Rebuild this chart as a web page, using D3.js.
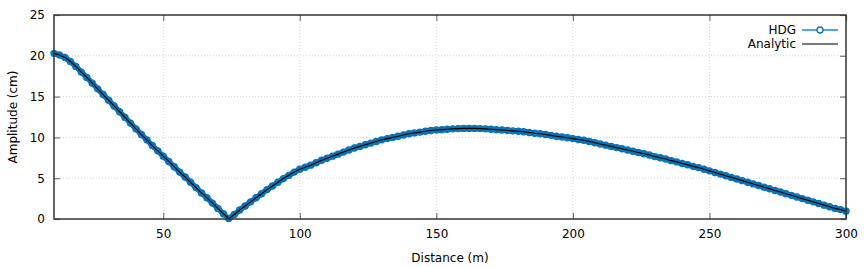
<!DOCTYPE html>
<html>
<head>
<meta charset="utf-8">
<script src="https://cdn.jsdelivr.net/npm/d3@7"></script>
<style>
  body { margin: 0; background: #fff; }
  svg { display: block; font-family: "DejaVu Sans", sans-serif; }
</style>
</head>
<body>
<div id="chart"></div>
<script>
// 数据：距离 (m) 与振幅 (cm)，每 2 m 读取一次
const distance = d3.range(10, 301, 2);
const hdgAmp = [
  20.3, 20.1, 19.8, 19.3, 18.7, 18.0, 17.35, 16.65, 15.95, 15.25,
  14.55, 13.85, 13.15, 12.45, 11.75, 11.05, 10.35, 9.7, 9.0, 8.35,
  7.7, 7.05, 6.4, 5.75, 5.15, 4.5, 3.85, 3.2, 2.6, 1.95,
  1.3, 0.65, 0.05, 0.55, 1.1, 1.6, 2.1, 2.6, 3.1, 3.6,
  4.05, 4.5, 4.95, 5.35, 5.75, 6.1, 6.35, 6.6, 6.9, 7.2,
  7.45, 7.7, 7.95, 8.2, 8.45, 8.7, 8.9, 9.1, 9.3, 9.5,
  9.7, 9.85, 10.0, 10.15, 10.3, 10.45, 10.55, 10.65, 10.75, 10.85,
  10.9, 10.95, 11.0, 11.05, 11.08, 11.1, 11.1, 11.1, 11.08, 11.05,
  11.0, 10.95, 10.9, 10.85, 10.8, 10.75, 10.7, 10.6, 10.5, 10.45,
  10.35, 10.25, 10.15, 10.05, 9.95, 9.85, 9.75, 9.65, 9.5, 9.35,
  9.2, 9.05, 8.9, 8.75, 8.6, 8.45, 8.3, 8.15, 8.0, 7.85,
  7.65, 7.5, 7.35, 7.15, 7.0, 6.8, 6.65, 6.45, 6.3, 6.1,
  5.9, 5.7, 5.5, 5.3, 5.1, 4.9, 4.7, 4.5, 4.3, 4.1,
  3.9, 3.7, 3.5, 3.3, 3.1, 2.9, 2.7, 2.5, 2.3, 2.1,
  1.9, 1.7, 1.5, 1.3, 1.15, 0.95
];
// 解析解与数值解在图中重合
const analyticAmp = hdgAmp.slice();

const xTicks = [50, 100, 150, 200, 250, 300];
const yTicks = [0, 5, 10, 15, 20, 25];
const seriesNames = ["HDG", "Analytic"];

// 配置常量
const CONFIG = {
  width: 866,
  height: 267,
  margin: { top: 15, right: 20, bottom: 48, left: 54 },
  hdgColor: "#0a74b6",
  tickLen: 6
};

const innerW = CONFIG.width - CONFIG.margin.left - CONFIG.margin.right;
const innerH = CONFIG.height - CONFIG.margin.top - CONFIG.margin.bottom;

const svg = d3.select("#chart").append("svg")
  .attr("width", CONFIG.width)
  .attr("height", CONFIG.height);

const g = svg.append("g")
  .attr("transform", `translate(${CONFIG.margin.left},${CONFIG.margin.top})`);

const x = d3.scaleLinear().domain([10, 300]).range([0, innerW]);
const y = d3.scaleLinear().domain([0, 25]).range([innerH, 0]);

// 网格线
g.append("g")
  .selectAll("line")
  .data(xTicks.filter(d => d < 300))
  .join("line")
  .attr("x1", d => x(d)).attr("x2", d => x(d))
  .attr("y1", 0).attr("y2", innerH)
  .attr("stroke", "#d4d4d4")
  .attr("stroke-dasharray", "1,2");

g.append("g")
  .selectAll("line")
  .data(yTicks.filter(d => d > 0 && d < 25))
  .join("line")
  .attr("x1", 0).attr("x2", innerW)
  .attr("y1", d => y(d)).attr("y2", d => y(d))
  .attr("stroke", "#d4d4d4")
  .attr("stroke-dasharray", "1,2");

// 坐标轴（刻度向内，四边镜像）
const axisStyle = sel => {
  sel.select(".domain").remove();
  sel.selectAll(".tick line").attr("stroke", "#777").attr("stroke-width", 1.2);
  sel.selectAll(".tick text").attr("fill", "#000").style("font-size", "12px")
    .style("font-family", "'DejaVu Sans', sans-serif");
};

g.append("g")
  .attr("transform", `translate(0,${innerH})`)
  .call(d3.axisBottom(x).tickValues(xTicks).tickSize(-CONFIG.tickLen).tickPadding(10))
  .call(axisStyle);

g.append("g")
  .call(d3.axisTop(x).tickValues(xTicks).tickSize(-CONFIG.tickLen).tickFormat(""))
  .call(axisStyle);

g.append("g")
  .call(d3.axisLeft(y).tickValues(yTicks).tickSize(-CONFIG.tickLen).tickPadding(9))
  .call(axisStyle);

g.append("g")
  .attr("transform", `translate(${innerW},0)`)
  .call(d3.axisRight(y).tickValues(yTicks).tickSize(-CONFIG.tickLen).tickFormat(""))
  .call(axisStyle);

// 数据曲线
const hdgData = distance.map((d, i) => ({ x: d, y: hdgAmp[i] }));
const anaData = distance.map((d, i) => ({ x: d, y: analyticAmp[i] }));

const line = d3.line().x(d => x(d.x)).y(d => y(d.y));

// HDG：密集标记形成的实心带
g.append("path")
  .datum(hdgData)
  .attr("fill", "none")
  .attr("stroke", CONFIG.hdgColor)
  .attr("stroke-width", 5.5)
  .attr("stroke-linejoin", "round")
  .attr("stroke-linecap", "round")
  .attr("d", line);

g.append("g")
  .selectAll("circle")
  .data(hdgData)
  .join("circle")
  .attr("cx", d => x(d.x))
  .attr("cy", d => y(d.y))
  .attr("r", 3)
  .attr("fill", "none")
  .attr("stroke", CONFIG.hdgColor)
  .attr("stroke-width", 1.4);

g.append("path")
  .datum(anaData)
  .attr("fill", "none")
  .attr("stroke", "#000")
  .attr("stroke-width", 1.1)
  .attr("d", line);

// 边框
g.append("rect")
  .attr("width", innerW)
  .attr("height", innerH)
  .attr("fill", "none")
  .attr("stroke", "#333")
  .attr("stroke-width", 1.5);

// 图例
const legend = g.append("g").attr("transform", `translate(${innerW - 50},0)`);
seriesNames.forEach((name, i) => {
  const ly = 15 + i * 14;
  legend.append("text")
    .attr("x", 0).attr("y", ly)
    .attr("dy", "0.35em")
    .attr("text-anchor", "end")
    .style("font-size", "12px")
    .text(name);
  legend.append("line")
    .attr("x1", 6).attr("x2", 42)
    .attr("y1", ly).attr("y2", ly)
    .attr("stroke", i === 0 ? "#5aa5d8" : "#777")
    .attr("stroke-width", 2);
  if (i === 0) {
    legend.append("circle")
      .attr("cx", 24).attr("cy", ly).attr("r", 3)
      .attr("fill", "#fff")
      .attr("stroke", CONFIG.hdgColor)
      .attr("stroke-width", 1.3);
  }
});

// 坐标轴标题
svg.append("text")
  .attr("x", CONFIG.margin.left + innerW / 2)
  .attr("y", 262)
  .attr("text-anchor", "middle")
  .style("font-size", "12px")
  .text("Distance (m)");

svg.append("text")
  .attr("transform", `translate(17,${CONFIG.margin.top + innerH / 2}) rotate(-90)`)
  .attr("text-anchor", "middle")
  .style("font-size", "12px")
  .text("Amplitude (cm)");
</script>
</body>
</html>
